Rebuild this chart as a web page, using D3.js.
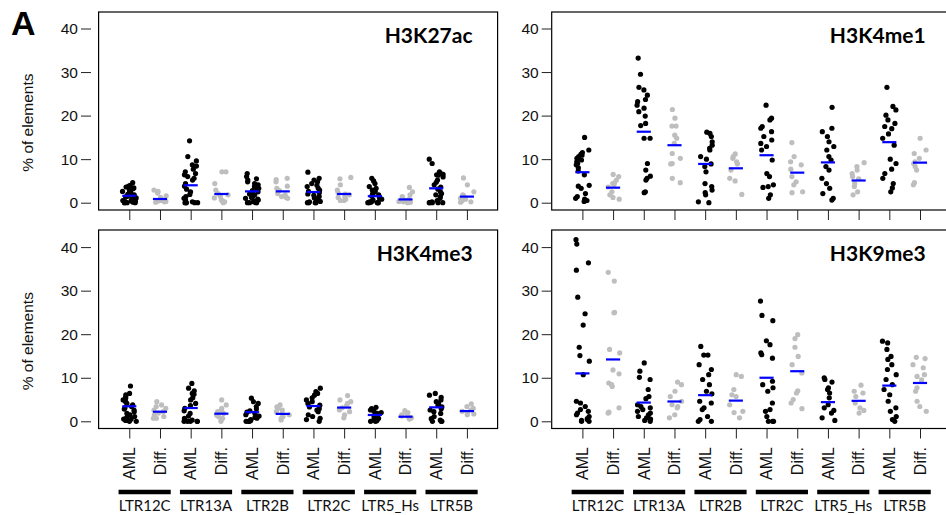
<!DOCTYPE html>
<html><head><meta charset="utf-8">
<script src="https://cdn.jsdelivr.net/npm/d3@7"></script>
<style>body{margin:0;background:#fff}svg{display:block}</style>
</head><body>
<svg id="c" width="946" height="515"></svg>
<script>
const families = ["LTR12C","LTR13A","LTR2B","LTR2C","LTR5_Hs","LTR5B"];
const conditions = ["AML","Diff."];
const yTicks = [0,10,20,30,40];
const marks = ["H3K27ac","H3K4me1","H3K4me3","H3K9me3"];

// each panel: 12 groups in order AML/Diff for each family
const h3k27ac = [
 [4.6,4.0,3.8,3.6,3.4,3.2,3.1,3.0,2.8,2.6,2.4,2.2,2.0,1.8,1.6,1.5,1.3,1.1,0.9,0.8,0.6,0.5,0.4,0.3,0.2,0.1,0,0,0,0],
 [2.9,2.6,2.2,1.6,1.2,1.0,0.8,0.6,0.5,0.4,0.3,0.2,0.1],
 [14.2,10.6,9.6,8.7,8.4,7.7,7.1,6.7,6.4,6.0,5.6,5.2,4.4,3.8,3.1,2.5,1.9,1.4,1.0,0.6,0.2,0,0,0,0,0],
 [7.1,7.1,4.4,2.9,2.1,1.8,1.4,1.1,0.6,0.4,0.2,0],
 [6.7,6.0,5.5,5.2,4.8,4.4,4.1,3.7,3.3,3.0,2.8,2.5,2.2,2.0,1.8,1.5,1.2,1.0,0.8,0.6,0.4,0.3,0.2,0,0,0,0],
 [5.6,5.3,4.8,3.8,3.3,2.8,2.1,1.8,1.4,1.2,1.0],
 [7.0,5.6,5.2,4.8,4.4,4.0,3.7,3.3,2.9,2.6,2.3,2.0,1.7,1.4,1.1,0.9,0.6,0.4,0.3,0.2,0,0,0,0],
 [5.8,5.5,4.1,2.9,2.3,2.0,1.8,1.4,1.2,0.8,0.5,0.5],
 [5.6,5.0,4.4,3.7,3.3,2.9,2.6,2.3,2.0,1.8,1.5,1.3,1.0,0.8,0.6,0.4,0.2,0.1,0,0,0,0,0],
 [3.5,2.5,1.8,1.4,1.0,0.8,0.6,0.5,0.3,0.2,0.1,0],
 [10.0,9.0,7.1,6.7,6.5,6.4,6.3,5.9,5.2,4.7,4.1,3.6,3.1,2.5,2.1,1.8,1.4,1.0,0.5,0.2,0,0,0,0,0],
 [5.7,4.1,2.5,1.8,1.5,1.2,1.0,0.8,0.6,0.4,0.2,0.1]
];
const h3k27acMeans = [1.6,0.85,4.0,2.0,2.6,2.6,2.45,2.0,1.5,0.75,3.3,1.4];

const h3k4me1 = [
 [15.0,12.1,11.5,11.1,10.9,10.6,10.2,9.8,9.4,9.0,8.7,8.0,7.3,6.4,4.0,3.8,3.3,2.1,1.4,1.0,0.8,0.5,0.3],
 [6.5,6.0,5.2,4.6,4.4,4.1,3.6,2.5,1.8,1.2,0.8],
 [33.2,29.5,26.5,25.9,24.7,23.7,23.2,22.4,21.7,20.9,19.9,18.2,17.7,14.8,14.8,9.0,7.5,6.1,5.6,5.2,2.5,2.3],
 [21.4,19.4,17.6,17.6,15.5,14.8,13.6,11.3,10.2,9.0,8.9,5.6,4.6],
 [16.2,15.9,15.2,14.0,13.2,12.5,12.1,10.6,10.0,8.9,8.3,7.1,4.4,3.7,2.9,2.3,1.8,0.2,0],
 [11.2,10.6,10.2,9.4,8.9,7.5,5.6,5.0,1.9],
 [22.4,19.4,19.0,17.5,17.1,16.3,15.2,14.4,13.6,12.9,12.1,9.8,6.7,6.0,4.1,3.7,3.5,1.8,1.0],
 [13.8,10.6,9.4,8.7,7.7,6.0,4.8,4.1,2.5,2.3],
 [21.9,17.1,16.3,15.2,14.0,12.9,12.1,10.6,9.8,8.3,7.5,5.6,4.4,3.3,2.1,1.0,0.6],
 [9.2,8.3,7.5,6.7,6.0,5.5,4.4,3.7,2.5,1.8],
 [26.5,22.1,21.3,20.1,19.0,18.2,17.5,17.0,15.8,14.8,13.2,10.0,9.0,7.7,6.7,5.6,4.4,3.4,2.5],
 [14.8,12.1,11.3,10.2,9.4,9.0,8.3,7.5,4.6,4.1]
];
const h3k4me1Means = [7.0,3.45,16.3,13.2,8.9,7.9,10.9,6.9,9.25,5.1,13.9,9.2];

const h3k4me3 = [
 [8.1,6.4,6.1,5.7,5.3,4.9,4.5,4.1,3.8,3.4,3.1,2.8,2.6,2.2,1.8,1.5,1.1,0.8,0.5,0.5,0.2,0,0],
 [4.5,3.75,3.4,3.0,2.6,2.2,1.9,1.5,1.1,0.7,0.7],
 [8.7,7.6,7.0,6.4,6.2,5.4,4.9,4.1,3.6,3.0,2.4,1.8,1.2,0.7,0.3,0,0,0,0,0],
 [4.9,3.75,3.0,2.6,2.2,1.8,1.4,1.1,0.7,0.3,0],
 [5.3,4.5,4.1,3.4,2.8,2.4,2.1,1.8,1.5,1.2,0.9,0.7,0.4,0.2,0,0,0],
 [3.75,3.3,3.0,2.6,2.2,1.8,1.5,1.1,0.7,0.3],
 [7.6,6.8,6.4,6.0,5.4,4.9,4.5,4.1,3.7,3.3,2.9,2.6,2.2,1.5,1.1,0.7,0.4,0],
 [5.9,4.9,4.5,4.1,3.6,3.1,2.6,2.2,1.5,0.8],
 [3.2,2.9,2.6,2.3,2.0,1.8,1.5,1.2,0.9,0.7,0.5,0.3,0.15,0,0],
 [2.45,2.0,1.8,1.5,1.2,1.0,0.8,0.7,0.5],
 [6.4,6.0,5.5,4.9,4.5,4.1,3.7,3.3,2.9,2.6,2.2,1.8,1.1,0.6,0.3,0,0,0],
 [4.0,3.4,3.0,2.6,2.3,2.0,1.7,1.5]
];
const h3k4me3Means = [3.45,2.2,3.05,1.75,2.1,1.7,3.5,3.15,1.45,1.05,3.2,2.35];

const h3k9me3 = [
 [41.7,40.7,36.4,34.7,28.5,24.7,22.1,17.0,15.1,13.8,10.7,4.6,4.2,3.4,2.7,2.3,1.9,1.5,1.1,0.6,0.4,0.2,0,0],
 [34.2,32.2,25.0,24.9,16.5,15.7,11.8,10.9,8.8,8.4,8.0,3.1,2.1,1.9],
 [13.4,11.5,10.1,9.6,7.3,5.7,5.2,3.8,3.4,3.1,2.7,2.3,1.9,1.5,1.1,0.8,0.5,0.2,0],
 [9.0,8.4,6.9,5.7,4.6,3.8,3.4,3.1,1.5,0.8],
 [17.2,15.2,15.2,13.0,11.9,10.7,9.6,8.4,6.9,6.3,4.6,4.2,3.1,2.7,1.1,0.4,0,0],
 [10.7,10.3,7.3,6.1,5.7,3.8,2.3,2.0,0.8],
 [27.6,24.3,23.1,18.5,17.6,15.7,15.3,14.5,9.2,8.4,7.7,6.9,4.2,2.7,2.3,1.1,0,0,0],
 [19.9,19.0,17.0,14.9,13.0,11.1,7.0,6.5,5.0,4.2,2.9],
 [10.0,9.6,9.0,7.7,7.3,6.5,5.4,3.8,3.1,2.5,1.9,0.8,0.2],
 [8.3,6.9,6.5,5.7,4.2,3.1,2.5,1.9],
 [18.4,18.0,16.5,14.9,14.2,13.0,11.9,10.7,9.6,8.4,7.3,6.1,4.6,3.1,2.3,1.1,0.4,0],
 [14.7,14.4,13.0,12.3,10.7,10.3,9.5,7.7,6.9,4.6,3.4,2.3]
];
const h3k9me3Means = [11.0,14.2,4.3,4.55,6.0,4.75,10.0,11.5,4.4,4.7,8.2,8.8];

const panelData = [
  {title: marks[0], values: h3k27ac, means: h3k27acMeans},
  {title: marks[1], values: h3k4me1, means: h3k4me1Means},
  {title: marks[2], values: h3k4me3, means: h3k4me3Means},
  {title: marks[3], values: h3k9me3, means: h3k9me3Means}
];

// ---------- layout ----------
const svg = d3.select("#c");
const colLeft = [98.6, 551.7];
const panelW = 399;
const rowY = [{top:12, bottom:210, y0:202.7, y40:28.5},
              {top:230, bottom:428.5, y0:421.3, y40:247.1}];
const tickFont = "'Liberation Sans', Arial, sans-serif";
const titleFont = "Lato, 'Open Sans', sans-serif";

// deterministic horizontal jitter (position only)
function jit(i, g){ const v = Math.sin((i+1)*12.9898 + (g+1)*78.233)*43758.5453; return (v - Math.floor(v) - 0.5)*0.46; }

panelData.forEach((p, pi) => {
  const col = pi % 2, row = Math.floor(pi/2);
  const L = colLeft[col], R = rowY[row];
  const x = d3.scaleLinear().domain([0,13]).range([L, L+panelW]);
  const y = d3.scaleLinear().domain([0,40]).range([R.y0, R.y40]);
  const g = svg.append("g");

  // box
  g.append("rect").attr("x", L).attr("y", R.top).attr("width", panelW).attr("height", R.bottom-R.top)
    .attr("fill","none").attr("stroke","#000").attr("stroke-width",1.2);

  // y axis
  const axX = col === 0 ? 91 : L;
  const ya = g.append("g").attr("transform", `translate(${axX},0)`)
    .call(d3.axisLeft(y).tickValues(yTicks).tickSize(10).tickPadding(3));
  ya.select(".domain").remove();
  ya.selectAll("line").attr("stroke","#222");
  ya.selectAll("text").attr("font-family", tickFont).attr("font-size", 15.5).attr("fill","#111");

  // x ticks
  const xa = g.append("g").attr("transform", `translate(0,${R.bottom})`)
    .call(d3.axisBottom(x).tickValues(d3.range(1,13)).tickSize(10).tickFormat(""));
  xa.select(".domain").remove();
  xa.selectAll("line").attr("stroke","#222");

  // points
  p.values.forEach((vals, gi) => {
    const color = gi % 2 === 0 ? "#000" : "#bebebe";
    g.append("g").selectAll("circle").data(vals).join("circle")
      .attr("cx", (d,i) => x(gi + 1 + jit(i, gi + pi*12)))
      .attr("cy", d => y(d))
      .attr("r", 2.6)
      .attr("fill", color);
  });
  // mean lines
  g.append("g").selectAll("line").data(p.means).join("line")
    .attr("x1", (d,i) => x(i+1-0.23)).attr("x2", (d,i) => x(i+1+0.23))
    .attr("y1", d => y(d)).attr("y2", d => y(d))
    .attr("stroke","#0000ff").attr("stroke-width",2.2);

  // title
  g.append("text").attr("x", L+panelW-25).attr("y", R.top+31).attr("text-anchor","end")
    .attr("font-family", titleFont).attr("font-weight","bold").attr("font-size",21).text(p.title);

  if (col === 0) {
    g.append("text").attr("transform", `translate(33,${(R.y0+R.y40)/2 + 7}) rotate(-90)`)
      .attr("text-anchor","middle").attr("font-family", tickFont).attr("font-size",15.5)
      .attr("fill","#111").text("% of elements");
  }

  if (row === 1) {
    // condition labels
    const labs = d3.range(12).map(i => conditions[i % 2]);
    g.append("g").selectAll("text").data(labs).join("text")
      .attr("transform", (d,i) => `translate(${x(i+1)},447) rotate(-90)`)
      .attr("text-anchor","end").attr("dy","0.36em")
      .attr("font-family", tickFont).attr("font-size",16).attr("fill","#111").text(d => d);
    // family bars
    g.append("g").selectAll("line").data(families).join("line")
      .attr("x1", (d,i) => x(2*i+1-0.35)).attr("x2", (d,i) => x(2*i+2+0.35))
      .attr("y1", 492).attr("y2", 492).attr("stroke","#000").attr("stroke-width",4.5);
    g.append("g").selectAll("text").data(families).join("text")
      .attr("x", (d,i) => x(2*i+1.5)).attr("y", 511).attr("text-anchor","middle")
      .attr("font-family", titleFont).attr("font-size",15).attr("fill","#111").text(d => d);
  }
});

svg.append("text").attr("x", 11).attr("y", 35).attr("font-family", tickFont)
  .attr("font-weight","bold").attr("font-size",34).text("A");
</script>
</body></html>
